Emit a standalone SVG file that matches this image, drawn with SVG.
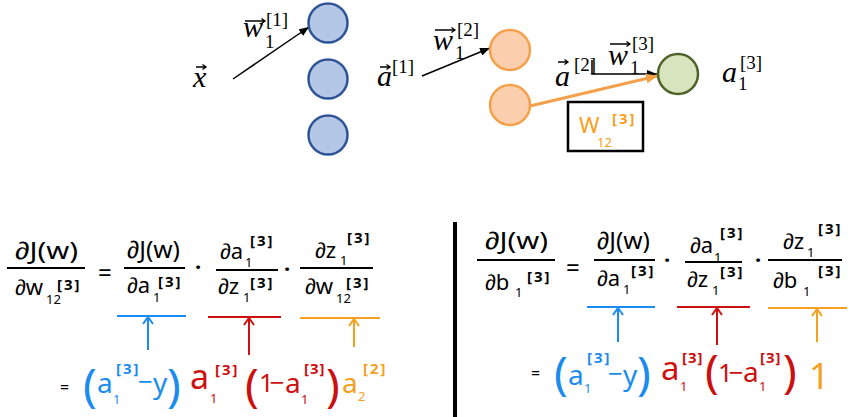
<svg xmlns="http://www.w3.org/2000/svg" width="850" height="417" viewBox="0 0 850 417">
<defs>
<style>
.mi{font-family:"Liberation Serif","DejaVu Serif",serif;font-style:italic;font-size:30px;fill:#000}
.mr{font-family:"Liberation Serif","DejaVu Serif",serif;font-style:normal;font-size:19px;fill:#000}
.hw{font-family:"Noto Sans","Liberation Sans",sans-serif;font-size:22px;fill:#000}
.s{font-size:13px}
.sb{font-size:15px;font-weight:700;letter-spacing:2px}
.blue{fill:#1a8cf0}
.red{fill:#cc1010}
.org{fill:#f5a020}
.nb{fill:#b4c7e7;stroke:#2f5597;stroke-width:2.5}
.no{fill:#fbcfae;stroke:#f4a04a;stroke-width:2.5}
.ng{fill:#d7e4bd;stroke:#4f6228;stroke-width:2.5}
.bar{stroke:#000;stroke-width:2}
.vec{stroke:#000;stroke-width:1.3;fill:none}
.cb{stroke:#1a8cf0;stroke-width:2;fill:none}
.cr{stroke:#cc1010;stroke-width:2;fill:none}
.co{stroke:#f5a020;stroke-width:2;fill:none}
</style>
<marker id="ahk" markerUnits="userSpaceOnUse" markerWidth="10" markerHeight="8" refX="10" refY="4" orient="auto"><path d="M0,0 L10,4 L0,8 z" fill="#000"/></marker>
<marker id="aho" markerUnits="userSpaceOnUse" markerWidth="12" markerHeight="10" refX="11" refY="5" orient="auto"><path d="M0,0 L12,5 L0,10 z" fill="#f4a04a"/></marker>
</defs>
<rect width="850" height="417" fill="#fff"/>

<g id="connectors">
<line x1="233" y1="79" x2="309" y2="27" stroke="#000" stroke-width="1.5" marker-end="url(#ahk)"/>
<line x1="422" y1="76" x2="490" y2="48" stroke="#000" stroke-width="1.5" marker-end="url(#ahk)"/>
<path d="M592,60 V74 H657" fill="none" stroke="#000" stroke-width="1.5" marker-end="url(#ahk)"/>
<line x1="530" y1="106" x2="657" y2="76" stroke="#f4a04a" stroke-width="3" marker-end="url(#aho)"/>
<path class="cb" d="M117,316 H186 M148,317 V350 M143,324 L148,317 L153,324"/>
<path class="cr" d="M208,317 H281 M249,318 V355 M244,325 L249,318 L254,325"/>
<path class="co" d="M300,318 H380 M354,319 V347 M349,326 L354,319 L359,326"/>
<path class="cb" d="M587,307 H655 M618,308 V342 M613,315 L618,308 L623,315"/>
<path class="cr" d="M677,307 H750 M717,308 V345 M712,315 L717,308 L722,315"/>
<path class="co" d="M768,308 H847 M817,309 V342 M812,316 L817,309 L822,316"/>
</g>

<g id="node-l1-1"><circle class="nb" cx="328" cy="23" r="19.5"/></g>
<g id="node-l1-2"><circle class="nb" cx="328" cy="79" r="19.5"/></g>
<g id="node-l1-3"><circle class="nb" cx="328" cy="135" r="19.5"/></g>
<g id="node-l2-1"><circle class="no" cx="510" cy="50" r="20"/></g>
<g id="node-l2-2"><circle class="no" cx="510" cy="105" r="20"/></g>
<g id="node-l3-1"><circle class="ng" cx="678" cy="74" r="20"/></g>

<g id="labels">
<path class="vec" d="M196,67 H206 M202.5,64.5 L206,67 L202.5,69.5"/>
<text class="mi" x="193" y="87">x</text>
<path class="vec" d="M245,21 H265 M261.5,18.5 L265,21 L261.5,23.5"/>
<text class="mi" x="243" y="37">w</text>
<text class="mr" x="265" y="48">1</text>
<text class="mr" x="266" y="26">[1]</text>
<path class="vec" d="M380,67 H390 M386.5,64.5 L390,67 L386.5,69.5"/>
<text class="mi" x="377" y="86">a</text>
<text class="mr" x="392" y="73">[1]</text>
<path class="vec" d="M435,30 H455 M451.5,27.5 L455,30 L451.5,32.5"/>
<text class="mi" x="433" y="50">w</text>
<text class="mr" x="455" y="59">1</text>
<text class="mr" x="457" y="36">[2]</text>
<path class="vec" d="M558,62 H568 M564.5,59.5 L568,62 L564.5,64.5"/>
<text class="mi" x="555" y="86">a</text>
<text class="mr" x="574" y="71">[2]</text>
<path class="vec" d="M610,44 H630 M626.5,41.5 L630,44 L626.5,46.5"/>
<text class="mi" x="608" y="65">w</text>
<text class="mr" x="630" y="74">1</text>
<text class="mr" x="632" y="50">[3]</text>
<text class="mi" x="722" y="82">a</text>
<text class="mr" x="738" y="90">1</text>
<text class="mr" x="740" y="69">[3]</text>
</g>

<g id="weight-box">
<rect x="568" y="102" width="75" height="49" fill="#fff" stroke="#000" stroke-width="2.5"/>
<text class="hw org" x="579" y="133">W</text>
<text class="hw org s" x="597" y="147">12</text>
<text class="hw org sb" x="612" y="124">[3]</text>
</g>

<line x1="455" y1="222" x2="455" y2="417" stroke="#000" stroke-width="4"/>

<g id="eq-left">
<text class="hw" x="15" y="259" style="font-size:24px" textLength="63" lengthAdjust="spacingAndGlyphs">∂J(w)</text>
<line class="bar" x1="7" y1="268" x2="85" y2="268"/>
<text class="hw" x="15" y="295">∂w<tspan class="s" x="46" y="304">12</tspan><tspan class="sb" x="57" y="290">[3]</tspan></text>
<text class="hw" x="98" y="281" style="font-size:24px">=</text>
<text class="hw" x="127" y="258" style="font-size:24px" textLength="53" lengthAdjust="spacingAndGlyphs">∂J(w)</text>
<line class="bar" x1="124" y1="268" x2="185" y2="268"/>
<text class="hw" x="127" y="293">∂a<tspan class="s" x="153" y="302">1</tspan><tspan class="sb" x="158" y="287">[3]</tspan></text>
<text class="hw" x="195" y="275" style="font-weight:700">·</text>
<text class="hw" x="220" y="259">∂a<tspan class="s" x="245" y="267">1</tspan><tspan class="sb" x="250" y="246">[3]</tspan></text>
<line class="bar" x1="216" y1="270" x2="278" y2="270"/>
<text class="hw" x="218" y="294">∂z<tspan class="s" x="243" y="302">1</tspan><tspan class="sb" x="250" y="288">[3]</tspan></text>
<text class="hw" x="284" y="277" style="font-weight:700">·</text>
<text class="hw" x="315" y="258">∂z<tspan class="s" x="340" y="265">1</tspan><tspan class="sb" x="347" y="243">[3]</tspan></text>
<line class="bar" x1="300" y1="268" x2="373" y2="268"/>
<text class="hw" x="305" y="294">∂w<tspan class="s" x="336" y="303">12</tspan><tspan class="sb" x="346" y="288">[3]</tspan></text>

<text class="hw" x="60" y="393" style="font-size:16px">=</text>
<text class="hw blue"><tspan x="83" y="402" style="font-size:46px">(</tspan><tspan x="97" y="393" style="font-size:28px">a</tspan><tspan class="s" x="113" y="404">1</tspan><tspan class="sb" x="116" y="374">[3]</tspan><tspan x="138" y="391" style="font-size:26px">−</tspan><tspan x="153" y="393" style="font-size:28px">y</tspan><tspan x="167" y="402" style="font-size:46px">)</tspan></text>
<text class="hw red"><tspan x="190" y="389" style="font-size:34px">a</tspan><tspan class="s" x="210" y="403">1</tspan><tspan class="sb" x="215" y="375">[3]</tspan><tspan x="245" y="402" style="font-size:46px">(</tspan><tspan x="259" y="392" style="font-size:26px;letter-spacing:-4px">1−</tspan><tspan x="285" y="393" style="font-size:28px">a</tspan><tspan class="s" x="301" y="404">1</tspan><tspan class="sb" x="304" y="374" style="letter-spacing:1px">[3]</tspan><tspan x="326" y="402" style="font-size:46px">)</tspan></text>
<text class="hw org"><tspan x="342" y="393" style="font-size:28px">a</tspan><tspan class="s" x="358" y="401">2</tspan><tspan class="sb" x="363" y="374">[2]</tspan></text>
</g>

<g id="eq-right">
<text class="hw" x="485" y="249" style="font-size:24px" textLength="63" lengthAdjust="spacingAndGlyphs">∂J(w)</text>
<line class="bar" x1="477" y1="260" x2="555" y2="260"/>
<text class="hw" x="485" y="290">∂b<tspan class="s" x="515" y="297">1</tspan><tspan class="sb" x="527" y="282">[3]</tspan></text>
<text class="hw" x="566" y="276" style="font-size:24px">=</text>
<text class="hw" x="597" y="249" style="font-size:24px" textLength="53" lengthAdjust="spacingAndGlyphs">∂J(w)</text>
<line class="bar" x1="594" y1="260" x2="655" y2="260"/>
<text class="hw" x="597" y="286">∂a<tspan class="s" x="623" y="294">1</tspan><tspan class="sb" x="631" y="276">[3]</tspan></text>
<text class="hw" x="664" y="268" style="font-weight:700">·</text>
<text class="hw" x="690" y="253">∂a<tspan class="s" x="714" y="262">1</tspan><tspan class="sb" x="720" y="238">[3]</tspan></text>
<line class="bar" x1="685" y1="262" x2="742" y2="262"/>
<text class="hw" x="687" y="287">∂z<tspan class="s" x="712" y="295">1</tspan><tspan class="sb" x="720" y="277">[3]</tspan></text>
<text class="hw" x="755" y="268" style="font-weight:700">·</text>
<text class="hw" x="783" y="249">∂z<tspan class="s" x="807" y="257">1</tspan><tspan class="sb" x="818" y="234">[3]</tspan></text>
<line class="bar" x1="768" y1="260" x2="842" y2="260"/>
<text class="hw" x="773" y="288">∂b<tspan class="s" x="803" y="296">1</tspan><tspan class="sb" x="818" y="276">[3]</tspan></text>

<text class="hw" x="531" y="379" style="font-size:16px">=</text>
<text class="hw blue"><tspan x="554" y="390" style="font-size:46px">(</tspan><tspan x="568" y="385" style="font-size:28px">a</tspan><tspan class="s" x="584" y="393">1</tspan><tspan class="sb" x="587" y="363">[3]</tspan><tspan x="608" y="383" style="font-size:26px">−</tspan><tspan x="623" y="385" style="font-size:28px">y</tspan><tspan x="637" y="390" style="font-size:46px">)</tspan></text>
<text class="hw red"><tspan x="661" y="380" style="font-size:33px">a</tspan><tspan class="s" x="680" y="391">1</tspan><tspan class="sb" x="682" y="363" style="letter-spacing:1px">[3]</tspan><tspan x="705" y="388" style="font-size:46px">(</tspan><tspan x="718" y="382" style="font-size:26px;letter-spacing:-4px">1−</tspan><tspan x="743" y="382" style="font-size:28px">a</tspan><tspan class="s" x="759" y="391">1</tspan><tspan class="sb" x="760" y="363" style="letter-spacing:1px">[3]</tspan><tspan x="783" y="388" style="font-size:46px">)</tspan></text>
<text class="hw org" x="809" y="389" style="font-size:36px">1</text>
</g>
</svg>
